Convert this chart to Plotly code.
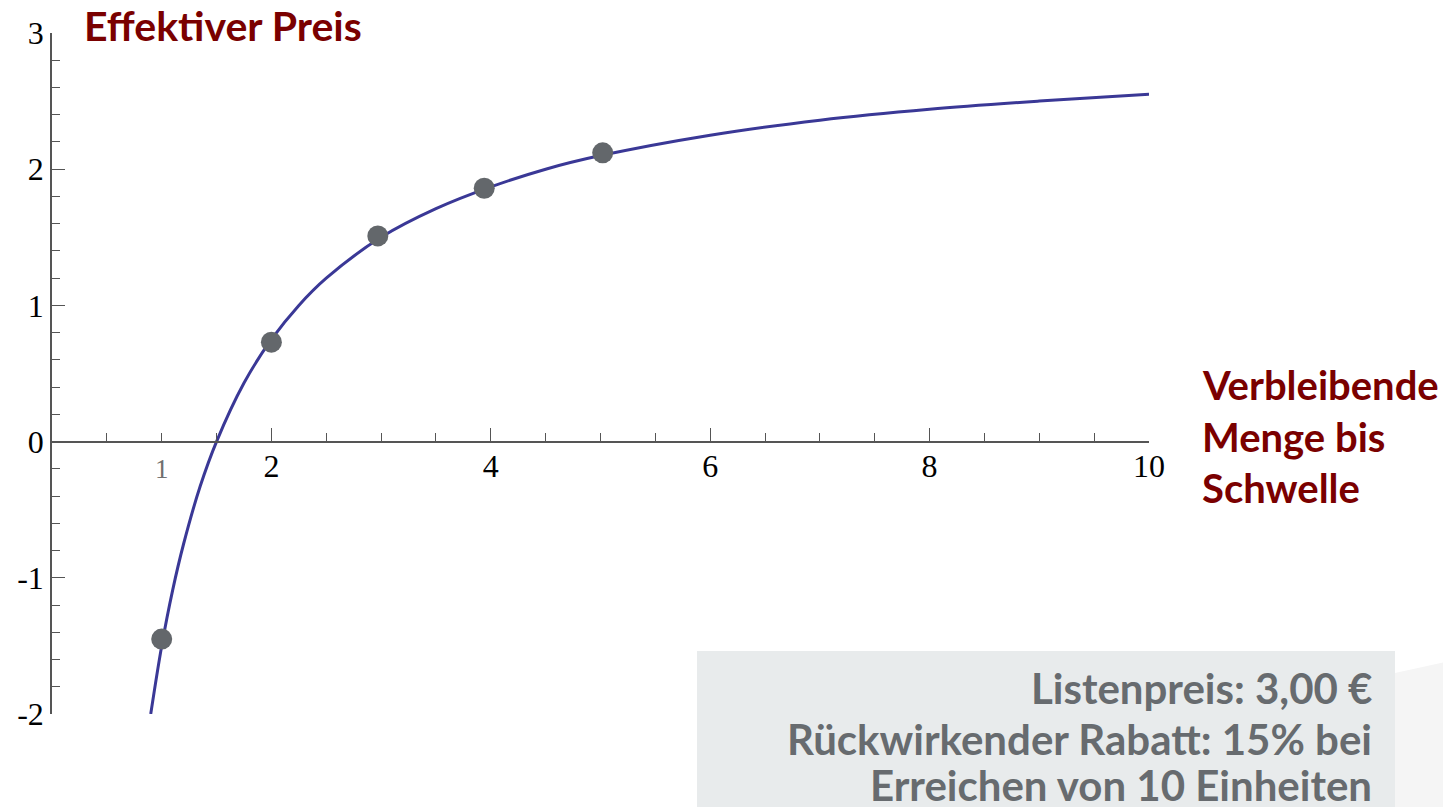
import plotly.graph_objects as go

# ---- data ----
curve_x = [0.9, 1.0, 1.1, 1.2, 1.35, 1.5, 1.75, 2.0, 2.25, 2.5, 3.0, 3.5, 4.0, 4.5, 5.0, 6.0, 7.0, 8.0, 9.0, 10.0]
curve_y = [-2.0, -1.5, -1.09, -0.75, -0.33, 0.0, 0.43, 0.75, 1.0, 1.2, 1.5, 1.71, 1.87, 2.0, 2.1, 2.25, 2.36, 2.44, 2.5, 2.55]
point_x = [1.0, 2.0, 2.97, 3.94, 5.02]
point_y = [-1.45, 0.73, 1.51, 1.86, 2.12]
x_tickvals = [2, 4, 6, 8, 10]
x_ticktext = ["2", "4", "6", "8", "10"]
y_tickvals = [-2, -1, 0, 1, 2, 3]
y_ticktext = ["-2", "-1", "0", "1", "2", "3"]
title_text = "Effektiver Preis"
xlabel_lines = ["Verbleibende", "Menge bis", "Schwelle"]
info_lines = ["Listenpreis: 3,00 €", "Rückwirkender Rabatt: 15% bei", "Erreichen von 10 Einheiten"]

W, H = 1443, 807
L, R, T, B = 52, 1149, 33, 714


def px(x):
    return (x - L) / (R - L)


def py(y):
    return (B - y) / (B - T)


RED = "#7a0000"
AX = "#555555"
SERIF = "Liberation Serif"
SANS = "Lato"

fig = go.Figure()
fig.add_trace(go.Scatter(x=curve_x, y=curve_y, mode="lines",
                         line=dict(color="#3a3896", width=3, shape="spline"),
                         hoverinfo="skip", showlegend=False, cliponaxis=False))
fig.add_trace(go.Scatter(x=point_x, y=point_y, mode="markers",
                         marker=dict(color="#63676b", size=21, line=dict(width=0)),
                         showlegend=False, cliponaxis=False))

fig.update_layout(
    width=W, height=H, autosize=False,
    margin=dict(l=L, r=W - R, t=T, b=H - B),
    paper_bgcolor="white", plot_bgcolor="white",
    showlegend=False,
    xaxis=dict(range=[0, 10], showgrid=False, zeroline=False,
               showline=True, linecolor=AX, linewidth=1.5,
               anchor="free", position=0.4,
               ticks="inside", ticklen=13, tickwidth=1.3, tickcolor=AX,
               tickmode="array", tickvals=x_tickvals, ticktext=x_ticktext,
               tickfont=dict(family=SERIF, size=32, color="black"),
               ticklabelstandoff=-4,
               minor=dict(ticks="inside", tickmode="linear", tick0=0, dtick=0.5,
                          ticklen=8, tickwidth=1.2, tickcolor=AX, showgrid=False)),
    yaxis=dict(range=[-2, 3], showgrid=False, zeroline=False,
               showline=True, linecolor=AX, linewidth=1.5,
               anchor="x",
               ticks="inside", ticklen=13, tickwidth=1.3, tickcolor=AX,
               tickmode="array", tickvals=y_tickvals, ticktext=y_ticktext,
               tickfont=dict(family=SERIF, size=32, color="black"),
               minor=dict(ticks="inside", tickmode="linear", tick0=0, dtick=0.2,
                          ticklen=8, tickwidth=1.2, tickcolor=AX, showgrid=False)),
)

# gray "1" label on the x axis
fig.add_annotation(x=1, y=py(469), xref="x", yref="paper", text="1", showarrow=False,
                   font=dict(family=SERIF, size=27, color="#707070"),
                   xanchor="center", yanchor="middle")

# title
fig.add_annotation(x=px(82), y=py(26), xref="paper", yref="paper", text="<b>" + title_text + "</b>",
                   showarrow=False, xanchor="left", yanchor="middle",
                   font=dict(family=SANS, size=41, color=RED))

# x label
for line, yc in zip(xlabel_lines, [385, 437, 488]):
    fig.add_annotation(x=px(1200), y=py(yc), xref="paper", yref="paper", text="<b>" + line + "</b>",
                       showarrow=False, xanchor="left", yanchor="middle",
                       font=dict(family=SANS, size=40, color=RED))

# info box
fig.add_shape(type="rect", xref="paper", yref="paper", x0=px(697), x1=px(1395), y0=py(651), y1=py(820),
              fillcolor="#e8ebec", line=dict(width=0), layer="below")
fig.add_shape(type="path", xref="paper", yref="paper",
              path=f"M {px(1395)} {py(673)} L {px(1450)} {py(661)} L {px(1450)} {py(820)} L {px(1395)} {py(820)} Z",
              fillcolor="#f5f5f5", line=dict(width=0), layer="below")
for line, yc in zip(info_lines, [688, 739, 785]):
    fig.add_annotation(x=px(1374), y=py(yc), xref="paper", yref="paper", text="<b>" + line + "</b>",
                       showarrow=False, xanchor="right", yanchor="middle",
                       font=dict(family=SANS, size=42, color="#676b6f"))

fig.write_html("out.html", config={"displayModeBar": False},
               post_script="document.body.style.margin='0';")
